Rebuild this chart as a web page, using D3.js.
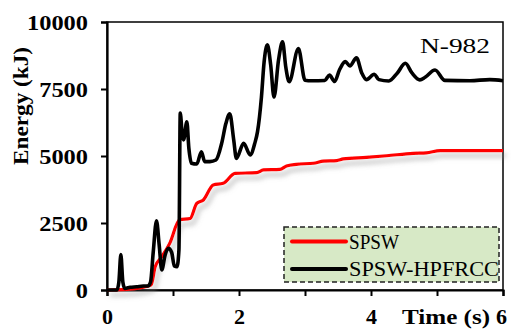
<!DOCTYPE html>
<html><head><meta charset="utf-8">
<script src="https://cdn.jsdelivr.net/npm/d3@7"></script>
<style>
html,body{margin:0;padding:0;background:#fff;}
svg{display:block;}
text{font-family:"Liberation Serif","Times New Roman",serif;}
</style></head>
<body>
<svg id="c" width="511" height="329"></svg>
<script>
// Data
const seriesNames = ["SPSW", "SPSW-HPFRCC"];
const seriesColors = ["#ff0000", "#000000"];
const spswTime = [0,0.3,0.5,0.67,0.73,0.83,0.95,1.1,1.26,1.36,1.46,1.61,1.76,1.94,2.27,2.37,2.62,2.72,2.87,3.13,3.28,3.48,3.58,3.93,4.24,4.64,4.84,5.05,6];
const spswEnergy = [0,20,80,190,870,1240,1740,2620,2670,3230,3360,3920,3980,4350,4380,4480,4500,4630,4690,4730,4810,4830,4890,4950,5010,5100,5120,5200,5200];
const hpTime = [0,0.15,0.18,0.21,0.24,0.27,0.35,0.45,0.55,0.62,0.66,0.7,0.75,0.79,0.83,0.88,0.93,0.98,1.02,1.06,1.09,1.11,1.14,1.16,1.21,1.24,1.28,1.36,1.43,1.48,1.56,1.65,1.74,1.8,1.86,1.92,1.96,2.07,2.17,2.24,2.28,2.34,2.38,2.43,2.48,2.53,2.6,2.66,2.71,2.76,2.9,3.0,3.1,3.3,3.37,3.45,3.52,3.61,3.68,3.78,3.86,3.93,4.05,4.12,4.27,4.4,4.52,4.62,4.74,4.82,4.97,5.12,5.5,5.8,6];
const hpEnergy = [0,0,300,1320,300,60,100,120,150,150,300,1400,2580,1700,750,1300,1560,1400,900,870,1500,6600,5800,5600,6280,5300,4730,4700,5160,4790,4790,4850,5500,6200,6570,5600,4910,5470,5040,5480,5900,7200,8500,9150,8400,7200,8600,9260,8300,7770,9010,7830,7810,7820,8020,7780,8200,8520,8360,8660,8100,7850,8050,7850,7800,8100,8460,8100,7840,7940,8210,7820,7810,7850,7810];
const xTicks = [0,1,2,3,4,5,6];
const xTickLabels = ["0","","2","","4","","6"];
const yTicks = [0,2500,5000,7500,10000];
const yTickLabels = ["0","2500","5000","7500","10000"];
const xTitle = "Time (s)";
const yTitle = "Energy (kJ)";
const panelLabel = "N-982";

const svg = d3.select("#c");
const L = 107, R = 503, T = 22, B = 290;
const x = d3.scaleLinear().domain([0,6]).range([L,R]);
const y = d3.scaleLinear().domain([0,10000]).range([B,T]);

const defs = svg.append("defs");
const f = defs.append("filter").attr("id","sh").attr("x","-10%").attr("y","-10%").attr("width","130%").attr("height","140%");
f.append("feDropShadow").attr("dx",3).attr("dy",5).attr("stdDeviation",2.5).attr("flood-color","#888").attr("flood-opacity",0.55);

// frame
svg.append("rect").attr("x",L).attr("y",T).attr("width",R-L).attr("height",B-T)
  .attr("fill","none").attr("stroke","#000").attr("stroke-width",1.5);

// axes
const xAxis = d3.axisBottom(x).tickValues(xTicks).tickFormat((d,i)=>xTickLabels[i]).tickSizeOuter(0).tickSize(6).tickPadding(12);
const gx = svg.append("g").attr("transform",`translate(0,${B})`).call(xAxis);
gx.select(".domain").attr("stroke-width",2.2);
gx.selectAll(".tick line").attr("stroke-width",2);
gx.selectAll(".tick text").attr("font-size",22).attr("font-weight","bold").attr("fill","#000")
  .attr("font-family","'Liberation Serif','Times New Roman',serif");
gx.selectAll(".tick").filter(d=>d===6).select("text").attr("dx",-2);

const yAxis = d3.axisLeft(y).tickValues(yTicks).tickFormat((d,i)=>yTickLabels[i]).tickSizeOuter(0).tickSize(6).tickPadding(13);
const gy = svg.append("g").attr("transform",`translate(${L},0)`).call(yAxis);
gy.select(".domain").attr("stroke-width",2.2);
gy.selectAll(".tick line").attr("stroke-width",2);
gy.selectAll(".tick text").attr("font-size",22).attr("font-weight","bold").attr("fill","#000")
  .attr("font-family","'Liberation Serif','Times New Roman',serif")
  .attr("textLength",function(d,i){return yTickLabels[i].length*12.2;}).attr("lengthAdjust","spacingAndGlyphs");

// lines
const lineGen = d3.line().x(d=>x(d[0])).y(d=>y(d[1])).curve(d3.curveMonotoneX);
const spsw = spswTime.map((t,i)=>[t,spswEnergy[i]]);
const hp = hpTime.map((t,i)=>[t,hpEnergy[i]]);
svg.append("path").datum(spsw).attr("d",lineGen).attr("fill","none").attr("stroke",seriesColors[0])
  .attr("stroke-width",3.2).attr("stroke-linejoin","round").attr("filter","url(#sh)");
svg.append("path").datum(hp).attr("d",lineGen).attr("fill","none").attr("stroke",seriesColors[1])
  .attr("stroke-width",3.6).attr("stroke-linejoin","round");

// titles
svg.append("text").attr("x",490).attr("y",324).attr("text-anchor","end").attr("font-size",22)
  .attr("font-weight","bold").attr("textLength",88).attr("lengthAdjust","spacingAndGlyphs").text(xTitle);
svg.append("text").attr("transform","translate(28,106) rotate(-90)").attr("text-anchor","middle")
  .attr("font-size",22).attr("font-weight","bold").attr("textLength",118).attr("lengthAdjust","spacingAndGlyphs").text(yTitle);
svg.append("text").attr("x",490).attr("y",53).attr("text-anchor","end").attr("font-size",21)
  .attr("textLength",70).attr("lengthAdjust","spacingAndGlyphs").text(panelLabel);

// legend
const lg = svg.append("g");
lg.append("rect").attr("x",284).attr("y",227).attr("width",215).attr("height",55)
  .attr("fill","#d7e9c6").attr("stroke","#222").attr("stroke-width",1.5).attr("stroke-dasharray","5,3");
seriesNames.forEach((n,i)=>{
  const yy = 241.5 + i*27.5;
  lg.append("line").attr("x1",292).attr("x2",346).attr("y1",yy).attr("y2",yy)
    .attr("stroke",seriesColors[i]).attr("stroke-width",4).attr("stroke-linecap","round");
  lg.append("text").attr("x",349).attr("y",yy+7).attr("font-size",20)
    .attr("textLength", i===0?50:150).attr("lengthAdjust","spacingAndGlyphs").text(n);
});
</script>
</body></html>
